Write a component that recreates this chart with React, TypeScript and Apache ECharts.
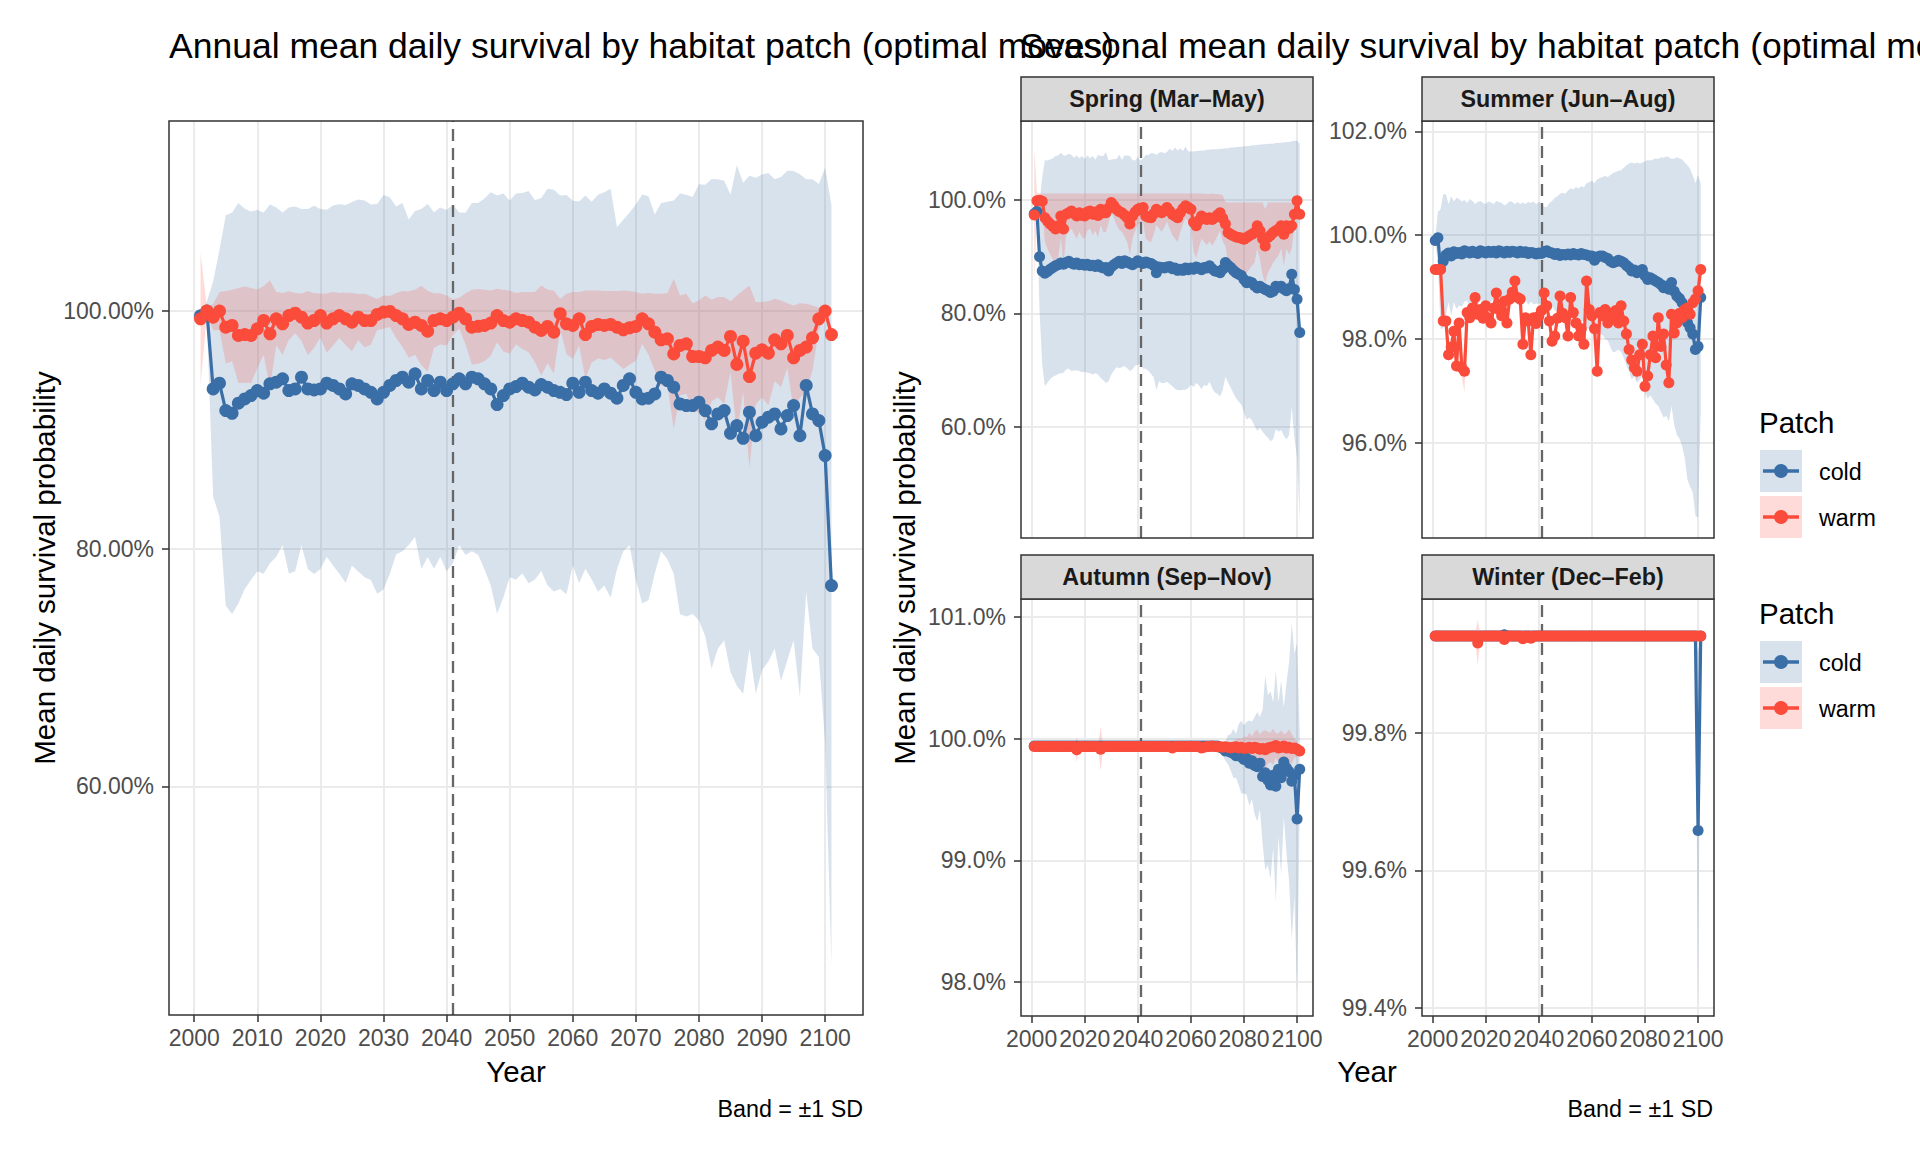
import React, { useEffect, useRef } from "react";
import * as echarts from "echarts";

const FONT = '"Liberation Sans", Arial, Helvetica, sans-serif';
const COLD = "#3A6EA6";
const WARM = "#FB4B3A";
const COLD_BAND = "rgba(58,110,166,0.2)";
const WARM_BAND = "rgba(251,75,58,0.2)";
const COLD_KEY_BG = "#D8E2ED";
const WARM_KEY_BG = "#FEDBD8";

const YEARS: number[] = Array.from({ length: 101 }, (_, i) => 2001 + i);
const POLICY_YEAR = 2041;
const X_MIN = 1996;
const X_MAX = 2106;

const ANNUAL_X_TICKS = [2000, 2010, 2020, 2030, 2040, 2050, 2060, 2070, 2080, 2090, 2100];
const SEASON_X_TICKS = [2000, 2020, 2040, 2060, 2080, 2100];
const ANNUAL_Y_TICKS = [60, 80, 100];
const SPRING_Y_TICKS = [60, 80, 100];
const SUMMER_Y_TICKS = [96, 98, 100, 102];
const AUTUMN_Y_TICKS = [98, 99, 100, 101];
const WINTER_Y_TICKS = [99.4, 99.6, 99.8];

const TITLE_ANNUAL = "Annual mean daily survival by habitat patch (optimal moves)";
const TITLE_SEASONAL = "Seasonal mean daily survival by habitat patch (optimal moves)";
const Y_TITLE = "Mean daily survival probability";
const X_TITLE = "Year";
const CAPTION = "Band = \u00b11 SD";
const LEGEND_TITLE = "Patch";
const PATCH_NAMES = ["cold", "warm"];
const SEASON_NAMES = ["Spring (Mar\u2013May)", "Summer (Jun\u2013Aug)", "Autumn (Sep\u2013Nov)", "Winter (Dec\u2013Feb)"];

// ---------- Annual (percent) ----------
const ANNUAL_COLD_MEAN = [
  99.6, 100.0, 93.45, 93.93, 91.63, 91.40, 92.25, 92.61, 92.89, 93.31,
  93.09, 93.88, 94.02, 94.30, 93.31, 93.45, 94.44, 93.45, 93.37, 93.45,
  93.93, 93.74, 93.45, 93.03, 93.88, 93.74, 93.45, 93.17, 92.61, 93.17,
  93.74, 94.16, 94.44, 94.02, 94.72, 93.45, 94.16, 93.31, 94.02, 93.31,
  93.88, 94.30, 93.88, 94.44, 94.30, 93.88, 93.45, 92.13, 92.89, 93.45,
  93.65, 93.93, 93.60, 93.37, 93.82, 93.60, 93.31, 93.17, 92.98, 93.93,
  93.17, 94.02, 93.31, 93.09, 93.45, 93.09, 92.67, 93.74, 94.30, 93.17,
  92.61, 92.67, 93.03, 94.44, 94.16, 93.60, 92.19, 92.05, 92.05, 92.33,
  91.63, 90.51, 91.35, 91.63, 89.72, 90.37, 89.30, 91.49, 89.52, 90.65,
  91.07, 91.35, 90.08, 91.21, 92.05, 89.52, 93.74, 91.35, 90.79, 87.84,
  76.9,
];
const ANNUAL_COLD_SD = [
  0.2, 0.8, 9.05, 11.23, 16.43, 16.9, 16.85, 16.0, 15.5, 15.2,
  15.2, 15.1, 14.7, 14.0, 15.4, 15.35, 14.15, 15.15, 15.5, 15.15,
  14.6, 15.15, 15.55, 15.9, 15.3, 15.65, 15.85, 15.8, 16.4, 16.6,
  15.85, 14.65, 14.65, 13.7, 13.7, 15.15, 14.85, 15.0, 14.7, 15.2,
  15.1, 14.0, 14.4, 14.65, 14.8, 15.6, 16.55, 17.6, 17.0, 15.85,
  16.25, 16.0, 16.5, 15.95, 15.7, 16.7, 16.9, 16.55, 16.8, 15.35,
  16.05, 15.7, 15.9, 16.7, 16.55, 17.2, 14.4, 13.95, 14.0, 15.8,
  17.2, 17.0, 15.1, 14.65, 15.05, 15.7, 17.7, 17.75, 17.55, 18.35,
  19.0, 20.6, 19.75, 19.35, 20.1, 21.9, 21.5, 19.9, 21.7, 20.85,
  20.55, 19.75, 21.2, 20.6, 19.75, 22.0, 17.35, 19.75, 19.9, 24.25,
  32.0,
];
const ANNUAL_WARM_MEAN = [
  99.35, 100.0, 99.49, 100.0, 98.65, 98.79, 97.95, 98.03, 97.95, 98.51,
  99.21, 98.09, 99.35, 98.93, 99.63, 99.83, 99.49, 98.99, 99.21, 99.63,
  98.99, 99.35, 99.63, 99.35, 99.07, 99.49, 99.21, 99.21, 99.72, 99.92,
  99.97, 99.63, 99.35, 98.88, 99.07, 98.79, 98.31, 99.21, 99.35, 99.21,
  99.49, 99.83, 99.35, 98.65, 98.72, 98.79, 98.99, 99.63, 99.20, 99.07,
  99.35, 99.21, 99.07, 98.65, 98.37, 98.71, 98.23, 99.78, 98.93, 98.79,
  99.35, 98.03, 98.71, 98.88, 98.79, 98.88, 98.65, 98.43, 98.60, 98.71,
  99.35, 98.93, 98.23, 97.58, 97.67, 96.40, 97.11, 97.25, 96.18, 96.18,
  96.07, 96.69, 96.97, 96.69, 97.87, 95.51, 97.47, 94.49, 96.46, 96.74,
  96.46, 97.58, 97.25, 97.95, 96.07, 96.69, 96.97, 97.75, 99.35, 100.0,
  98.03,
];
const ANNUAL_WARM_SD = [
  5.6, 0.3, 1.1, 1.6, 3.05, 3.0, 4.0, 4.05, 4.0, 3.3,
  2.9, 4.5, 2.25, 2.6, 2.05, 1.7, 2.0, 2.7, 2.3, 1.85,
  2.5, 2.25, 1.9, 2.2, 2.45, 1.95, 2.25, 2.05, 1.3, 1.4,
  1.3, 1.9, 2.35, 2.8, 2.75, 3.35, 3.4, 2.3, 2.15, 2.1,
  1.5, 1.3, 2.15, 3.15, 3.15, 3.0, 2.75, 2.25, 2.6, 2.65,
  2.17, 2.39, 2.53, 2.95, 3.79, 3.09, 3.51, 1.26, 2.53, 2.81,
  2.25, 3.71, 3.03, 2.86, 2.9, 2.81, 3.04, 3.31, 3.09, 2.89,
  2.11, 2.59, 3.23, 3.88, 3.85, 6.32, 4.21, 4.21, 4.49, 4.72,
  5.25, 4.27, 4.21, 4.49, 2.97, 5.81, 4.27, 7.67, 4.3, 4.02,
  4.38, 3.46, 3.65, 2.72, 4.41, 3.98, 3.65, 2.73, 0.93, 0.3,
  0.5,
];

// ---------- Spring ----------
const SPRING_COLD_MEAN = [
  97.6, 98.0, 90.0, 87.5, 87.1, 87.4, 87.8, 88.1, 88.4, 88.6,
  88.9, 88.7, 89.0, 89.2, 88.9, 88.7, 88.9, 88.6, 88.7, 88.5,
  88.7, 88.4, 88.5, 88.3, 88.6, 88.2, 88.0, 88.1, 87.5, 88.2,
  88.6, 88.9, 89.2, 88.8, 89.3, 89.1, 88.8, 88.6, 88.9, 89.3,
  89.0, 88.8, 89.1, 88.9, 88.8, 88.5, 87.2, 88.2, 88.1, 88.0,
  88.2, 88.3, 87.9, 88.0, 87.6, 87.8, 87.6, 88.0, 87.7, 88.0,
  87.8, 88.2, 88.0, 87.7, 88.1, 88.0, 88.4, 87.9, 87.5, 87.4,
  87.2, 87.8, 89.0, 88.5, 88.1, 87.6, 87.2, 86.9, 86.7, 86.0,
  85.4, 85.6, 85.4, 84.9, 84.5, 84.8, 84.5, 84.2, 84.0, 83.7,
  83.9, 84.8, 84.6, 84.8, 84.3, 84.0, 84.4, 86.9, 84.2, 82.5,
  76.6,
];
const SPRING_COLD_SD = [
  0.5, 1.0, 9.7, 16.6, 20.0, 19.6, 19.4, 19.3, 19.4, 19.3,
  19.5, 19.2, 18.9, 19.0, 19.1, 18.8, 19.0, 18.8, 19.1, 18.8,
  19.2, 19.0, 19.3, 18.9, 19.4, 19.6, 19.8, 20.4, 19.5, 19.0,
  18.7, 18.4, 18.9, 18.3, 18.6, 18.8, 19.0, 18.5, 18.1, 18.4,
  18.0, 18.6, 18.9, 19.1, 19.5, 19.8, 20.8, 20.2, 20.4, 20.3,
  20.3, 20.8, 20.8, 21.3, 21.2, 21.4, 21.1, 21.5, 20.9, 20.6,
  20.8, 20.5, 20.7, 21.1, 20.7, 20.9, 20.5, 21.1, 21.5, 21.6,
  21.9, 21.3, 20.2, 20.7, 21.2, 21.7, 22.2, 22.5, 22.8, 23.5,
  24.2, 24.0, 24.3, 24.8, 25.3, 25.0, 25.4, 25.7, 26.0, 26.3,
  26.1, 25.3, 25.5, 25.4, 25.9, 26.3, 25.9, 23.5, 26.3, 28.0,
  33.4,
];
const SPRING_WARM_MEAN = [
  97.4, 99.9, 100.0, 99.8, 96.9, 96.3, 95.8, 95.4, 94.9, 95.5,
  97.2, 94.9, 97.5, 97.8, 98.1, 97.6, 97.2, 97.8, 97.3, 97.2,
  97.9, 98.1, 97.5, 97.9, 97.3, 98.4, 97.8, 97.8, 98.6, 99.6,
  99.0, 98.4, 98.0, 97.8, 97.4, 96.9, 95.8, 97.2, 97.9, 98.4,
  98.6, 98.7, 97.2, 97.0, 96.9, 97.6, 98.4, 98.1, 97.8, 98.2,
  98.7, 98.1, 97.5, 97.2, 96.9, 97.8, 98.5, 99.0, 98.7, 98.4,
  96.1, 95.5, 96.4, 97.2, 96.9, 96.6, 96.9, 96.6, 96.9, 97.4,
  97.8, 96.8, 95.8, 94.3, 94.0, 93.7, 93.5, 93.4, 93.3, 93.1,
  93.4, 93.7, 94.0, 94.3, 95.5, 94.6, 93.2, 91.9, 93.4, 93.8,
  94.3, 94.6, 94.9, 95.5, 94.0, 95.5, 95.0, 95.5, 97.5, 99.9,
  97.5,
];
const SPRING_WARM_SD = [
  11.6, 1.5, 1.2, 1.4, 4.3, 4.9, 5.4, 5.8, 6.3, 5.7,
  4.0, 6.3, 3.7, 3.4, 3.1, 3.6, 4.0, 3.4, 3.9, 4.0,
  3.3, 3.1, 3.7, 3.3, 3.9, 2.8, 3.4, 3.4, 2.6, 1.6,
  2.2, 2.8, 3.2, 3.4, 3.8, 4.3, 5.4, 4.0, 3.3, 2.8,
  2.6, 2.5, 4.0, 4.2, 4.3, 3.6, 2.8, 3.1, 3.4, 3.0,
  2.5, 3.1, 3.7, 4.0, 4.3, 3.4, 2.7, 2.2, 2.5, 2.8,
  5.1, 5.7, 4.8, 4.0, 4.3, 4.5, 4.2, 4.6, 4.2, 3.7,
  3.2, 4.1, 3.9, 5.3, 5.6, 5.9, 6.1, 6.2, 6.3, 6.5,
  6.2, 5.9, 5.6, 5.3, 4.1, 5.0, 6.4, 6.5, 6.2, 5.8,
  5.3, 5.0, 4.7, 4.1, 5.6, 4.1, 4.6, 4.1, 2.1, 0.8,
  2.5,
];

// ---------- Summer ----------
const SUMMER_COLD_MEAN = [
  99.90, 99.95, 99.35, 99.50, 99.62, 99.66, 99.60, 99.68, 99.65, 99.67,
  99.64, 99.70, 99.68, 99.66, 99.69, 99.67, 99.65, 99.70, 99.68, 99.66,
  99.69, 99.67, 99.69, 99.66, 99.70, 99.68, 99.66, 99.69, 99.67, 99.69,
  99.68, 99.66, 99.69, 99.67, 99.68, 99.65, 99.67, 99.66, 99.64, 99.66,
  99.65, 99.68, 99.70, 99.67, 99.66, 99.63, 99.65, 99.61, 99.63, 99.62,
  99.64, 99.62, 99.65, 99.63, 99.62, 99.65, 99.63, 99.62, 99.60, 99.60,
  99.52, 99.58, 99.60, 99.60, 99.57, 99.55, 99.50, 99.47, 99.49, 99.52,
  99.50, 99.47, 99.42, 99.38, 99.31, 99.33, 99.28, 99.30, 99.34, 99.22,
  99.15, 99.18, 99.15, 99.12, 99.09, 99.05, 98.99, 99.02, 98.96, 99.09,
  98.92, 98.83, 98.78, 98.70, 98.55, 98.32, 98.22, 98.10, 97.80, 97.86,
  98.80,
];
const SUMMER_COLD_SD = [
  0.05, 0.5, 1.15, 1.29, 1.17, 0.94, 1.15, 0.97, 1.07, 1.03,
  1.01, 0.98, 0.94, 1.04, 0.97, 0.93, 0.99, 0.96, 0.94, 0.94,
  0.96, 0.96, 0.91, 1.0, 0.94, 0.94, 0.92, 0.91, 0.99, 0.95,
  0.92, 0.98, 0.91, 0.96, 0.92, 0.99, 0.95, 0.99, 0.96, 0.98,
  0.97, 0.87, 0.84, 0.95, 1.0, 1.09, 1.1, 1.19, 1.19, 1.18,
  1.22, 1.28, 1.23, 1.3, 1.28, 1.3, 1.29, 1.38, 1.42, 1.45,
  1.48, 1.5, 1.5, 1.52, 1.57, 1.57, 1.66, 1.73, 1.73, 1.72,
  1.75, 1.83, 1.93, 2.0, 2.09, 2.05, 2.12, 2.08, 2.06, 2.2,
  2.3, 2.26, 2.31, 2.36, 2.38, 2.45, 2.5, 2.5, 2.54, 2.38,
  2.56, 2.67, 2.7, 2.76, 2.85, 3.03, 3.06, 3.05, 3.2, 3.3,
  2.2,
];
const SUMMER_WARM_MEAN = [
  99.34, 99.34, 99.34, 98.35, 98.35, 97.70, 97.85, 98.15, 97.48, 98.31,
  97.45, 97.38, 98.51, 98.41, 98.60, 98.80, 98.48, 98.57, 98.40, 98.64,
  98.41, 98.31, 98.60, 98.89, 98.57, 98.45, 98.73, 98.31, 98.77, 98.90,
  99.12, 98.80, 98.77, 97.90, 98.41, 98.35, 97.70, 98.41, 98.30, 98.44,
  98.55, 98.89, 98.64, 98.35, 97.96, 98.06, 98.40, 98.83, 98.50, 98.41,
  98.06, 98.80, 98.51, 98.31, 98.06, 98.20, 97.90, 99.12, 98.57, 98.45,
  98.20, 97.38, 98.51, 98.45, 98.57, 98.31, 98.50, 98.44, 98.55, 98.31,
  98.64, 98.35, 98.10, 97.80, 97.60, 97.45, 97.38, 97.70, 97.90, 97.09,
  97.29, 97.70, 98.06, 97.64, 98.41, 97.86, 98.10, 97.50, 97.16, 98.48,
  98.12, 98.31, 98.50, 98.41, 98.57, 98.60, 98.48, 98.70, 98.77, 98.93,
  99.34,
];
const SUMMER_WARM_SD = [
  0.03, 0.03, 0.03, 0.10, 0.05, 0.15, 0.04, 0.05, 0.12, 0.04,
  0.20, 0.40, 0.04, 0.03, 0.03, 0.04, 0.03, 0.03, 0.04, 0.03,
  0.03, 0.04, 0.03, 0.03, 0.04, 0.03, 0.03, 0.04, 0.03, 0.03,
  0.03, 0.04, 0.03, 0.10, 0.03, 0.04, 0.10, 0.03, 0.04, 0.03,
  0.03, 0.03, 0.04, 0.03, 0.12, 0.05, 0.03, 0.03, 0.04, 0.03,
  0.04, 0.03, 0.03, 0.04, 0.03, 0.03, 0.05, 0.03, 0.03, 0.04,
  0.05, 0.15, 0.04, 0.03, 0.03, 0.04, 0.03, 0.03, 0.04, 0.03,
  0.03, 0.04, 0.05, 0.06, 0.08, 0.10, 0.20, 0.08, 0.06, 0.25,
  0.12, 0.06, 0.05, 0.06, 0.04, 0.05, 0.04, 0.08, 0.15, 0.04,
  0.04, 0.03, 0.03, 0.04, 0.03, 0.03, 0.04, 0.03, 0.03, 0.03,
  0.03,
];

// ---------- Autumn ----------
const AUTUMN_COLD_MEAN = [
  99.94, 99.94, 99.94, 99.94, 99.94, 99.94, 99.94, 99.94, 99.94, 99.94,
  99.94, 99.94, 99.94, 99.94, 99.94, 99.94, 99.94, 99.94, 99.94, 99.94,
  99.94, 99.94, 99.94, 99.94, 99.94, 99.94, 99.94, 99.94, 99.94, 99.94,
  99.94, 99.94, 99.94, 99.94, 99.94, 99.94, 99.94, 99.94, 99.94, 99.94,
  99.94, 99.94, 99.94, 99.94, 99.94, 99.94, 99.94, 99.94, 99.94, 99.94,
  99.94, 99.94, 99.94, 99.94, 99.94, 99.94, 99.94, 99.94, 99.94, 99.94,
  99.94, 99.94, 99.94, 99.94, 99.94, 99.94, 99.94, 99.94, 99.94, 99.94,
  99.93, 99.92, 99.90, 99.91, 99.89, 99.88, 99.86, 99.87, 99.85, 99.83,
  99.84, 99.80, 99.82, 99.78, 99.77, 99.80, 99.69, 99.72, 99.66, 99.62,
  99.70, 99.61, 99.75, 99.68, 99.81, 99.76, 99.73, 99.65, 99.70, 99.34,
  99.75,
];
const AUTUMN_COLD_SD = [
  0.01, 0.01, 0.01, 0.01, 0.01, 0.01, 0.01, 0.01, 0.01, 0.01,
  0.01, 0.01, 0.01, 0.01, 0.01, 0.01, 0.01, 0.01, 0.01, 0.01,
  0.01, 0.01, 0.01, 0.01, 0.01, 0.01, 0.01, 0.01, 0.01, 0.01,
  0.01, 0.01, 0.01, 0.01, 0.01, 0.01, 0.01, 0.01, 0.01, 0.01,
  0.01, 0.01, 0.01, 0.01, 0.01, 0.01, 0.01, 0.01, 0.01, 0.01,
  0.01, 0.01, 0.01, 0.01, 0.01, 0.01, 0.01, 0.01, 0.01, 0.01,
  0.01, 0.01, 0.01, 0.01, 0.01, 0.01, 0.01, 0.01, 0.01, 0.01,
  0.05, 0.06, 0.08, 0.12, 0.15, 0.20, 0.18, 0.25, 0.30, 0.28,
  0.30, 0.35, 0.32, 0.40, 0.45, 0.38, 0.55, 0.80, 0.70, 0.77,
  0.60, 0.95, 0.55, 0.80, 0.45, 0.70, 0.90, 1.30, 1.00, 1.45,
  0.30,
];
const AUTUMN_WARM_MEAN = [
  99.937, 99.937, 99.937, 99.937, 99.937, 99.937, 99.937, 99.937, 99.937, 99.937,
  99.937, 99.937, 99.937, 99.937, 99.937, 99.937, 99.91, 99.937, 99.937, 99.937,
  99.937, 99.937, 99.937, 99.937, 99.937, 99.915, 99.937, 99.937, 99.937, 99.937,
  99.937, 99.937, 99.937, 99.937, 99.937, 99.937, 99.937, 99.937, 99.937, 99.937,
  99.937, 99.937, 99.937, 99.937, 99.937, 99.937, 99.937, 99.937, 99.937, 99.937,
  99.937, 99.937, 99.925, 99.937, 99.937, 99.937, 99.937, 99.937, 99.937, 99.937,
  99.937, 99.937, 99.937, 99.925, 99.93, 99.937, 99.937, 99.94, 99.937, 99.935,
  99.935, 99.93, 99.935, 99.93, 99.925, 99.93, 99.935, 99.925, 99.93, 99.92,
  99.925, 99.93, 99.92, 99.93, 99.925, 99.915, 99.92, 99.91, 99.925, 99.93,
  99.935, 99.945, 99.925, 99.93, 99.94, 99.925, 99.93, 99.92, 99.925, 99.915,
  99.90,
];
const AUTUMN_WARM_SD = [
  0.005, 0.005, 0.005, 0.005, 0.005, 0.005, 0.005, 0.005, 0.005, 0.005,
  0.005, 0.005, 0.005, 0.005, 0.005, 0.005, 0.10, 0.005, 0.005, 0.005,
  0.005, 0.005, 0.005, 0.005, 0.005, 0.18, 0.005, 0.005, 0.005, 0.005,
  0.005, 0.005, 0.005, 0.005, 0.005, 0.005, 0.005, 0.005, 0.005, 0.005,
  0.005, 0.005, 0.005, 0.005, 0.005, 0.005, 0.005, 0.005, 0.005, 0.005,
  0.005, 0.005, 0.04, 0.005, 0.005, 0.005, 0.005, 0.005, 0.005, 0.005,
  0.005, 0.005, 0.005, 0.03, 0.01, 0.005, 0.005, 0.01, 0.01, 0.01,
  0.02, 0.02, 0.03, 0.04, 0.05, 0.05, 0.06, 0.08, 0.07, 0.10,
  0.09, 0.12, 0.10, 0.13, 0.15, 0.12, 0.14, 0.16, 0.13, 0.12,
  0.15, 0.10, 0.12, 0.14, 0.10, 0.12, 0.15, 0.12, 0.08, 0.06,
  0.02,
];

// ---------- Winter ----------
const WINTER_COLD_MEAN = [
  99.941, 99.941, 99.941, 99.941, 99.941, 99.941, 99.941, 99.941, 99.941, 99.941,
  99.941, 99.941, 99.941, 99.941, 99.941, 99.941, 99.941, 99.941, 99.941, 99.941,
  99.941, 99.941, 99.941, 99.941, 99.941, 99.941, 99.943, 99.941, 99.941, 99.941,
  99.941, 99.941, 99.941, 99.941, 99.941, 99.941, 99.941, 99.941, 99.941, 99.941,
  99.941, 99.941, 99.941, 99.941, 99.941, 99.941, 99.941, 99.941, 99.941, 99.941,
  99.941, 99.941, 99.941, 99.941, 99.941, 99.941, 99.941, 99.941, 99.941, 99.941,
  99.941, 99.941, 99.941, 99.941, 99.941, 99.941, 99.941, 99.941, 99.941, 99.941,
  99.941, 99.941, 99.941, 99.941, 99.941, 99.941, 99.941, 99.941, 99.941, 99.941,
  99.941, 99.941, 99.941, 99.941, 99.941, 99.941, 99.941, 99.941, 99.941, 99.941,
  99.941, 99.941, 99.941, 99.941, 99.941, 99.941, 99.941, 99.941, 99.941, 99.658,
  99.941,
];
const WINTER_COLD_SD = [
  0.001, 0.001, 0.001, 0.001, 0.001, 0.001, 0.001, 0.001, 0.001, 0.001,
  0.001, 0.001, 0.001, 0.001, 0.001, 0.001, 0.001, 0.001, 0.001, 0.001,
  0.001, 0.001, 0.001, 0.001, 0.001, 0.001, 0.001, 0.001, 0.001, 0.001,
  0.001, 0.001, 0.001, 0.001, 0.001, 0.001, 0.001, 0.001, 0.001, 0.001,
  0.001, 0.001, 0.001, 0.001, 0.001, 0.001, 0.001, 0.001, 0.001, 0.001,
  0.001, 0.001, 0.001, 0.001, 0.001, 0.001, 0.001, 0.001, 0.001, 0.001,
  0.001, 0.001, 0.001, 0.001, 0.001, 0.001, 0.001, 0.001, 0.001, 0.001,
  0.001, 0.001, 0.001, 0.001, 0.001, 0.001, 0.001, 0.001, 0.001, 0.001,
  0.001, 0.001, 0.001, 0.001, 0.001, 0.001, 0.001, 0.001, 0.001, 0.001,
  0.001, 0.001, 0.001, 0.001, 0.001, 0.001, 0.001, 0.001, 0.001, 0.26,
  0.001,
];
const WINTER_WARM_MEAN = [
  99.941, 99.941, 99.941, 99.941, 99.941, 99.941, 99.941, 99.941, 99.941, 99.941,
  99.941, 99.941, 99.941, 99.941, 99.941, 99.941, 99.931, 99.941, 99.941, 99.941,
  99.941, 99.941, 99.941, 99.941, 99.941, 99.941, 99.936, 99.941, 99.941, 99.941,
  99.941, 99.941, 99.941, 99.937, 99.941, 99.941, 99.938, 99.941, 99.941, 99.941,
  99.941, 99.941, 99.941, 99.941, 99.941, 99.941, 99.941, 99.941, 99.941, 99.941,
  99.941, 99.941, 99.941, 99.941, 99.941, 99.941, 99.941, 99.941, 99.941, 99.941,
  99.941, 99.941, 99.941, 99.941, 99.941, 99.941, 99.941, 99.941, 99.941, 99.941,
  99.941, 99.941, 99.941, 99.941, 99.941, 99.941, 99.941, 99.941, 99.941, 99.941,
  99.941, 99.941, 99.941, 99.941, 99.941, 99.941, 99.941, 99.941, 99.941, 99.941,
  99.941, 99.941, 99.941, 99.941, 99.941, 99.941, 99.941, 99.941, 99.941, 99.941,
  99.941,
];
const WINTER_WARM_SD = [
  0.001, 0.001, 0.001, 0.001, 0.001, 0.001, 0.001, 0.001, 0.001, 0.001,
  0.001, 0.001, 0.001, 0.001, 0.001, 0.001, 0.034, 0.001, 0.001, 0.001,
  0.001, 0.001, 0.001, 0.001, 0.001, 0.001, 0.008, 0.001, 0.001, 0.001,
  0.001, 0.001, 0.001, 0.004, 0.001, 0.001, 0.001, 0.001, 0.001, 0.001,
  0.001, 0.001, 0.001, 0.001, 0.001, 0.001, 0.001, 0.001, 0.001, 0.001,
  0.001, 0.001, 0.001, 0.001, 0.001, 0.001, 0.001, 0.001, 0.001, 0.001,
  0.001, 0.001, 0.001, 0.001, 0.001, 0.001, 0.001, 0.001, 0.001, 0.001,
  0.001, 0.001, 0.001, 0.001, 0.001, 0.001, 0.001, 0.001, 0.001, 0.001,
  0.001, 0.001, 0.001, 0.001, 0.001, 0.001, 0.001, 0.001, 0.001, 0.001,
  0.001, 0.001, 0.001, 0.001, 0.001, 0.001, 0.001, 0.001, 0.001, 0.001,
  0.001,
];

type Panel = {
  id: string;
  left: number; top: number; width: number; height: number;
  yMin: number; yMax: number; yTicks: number[]; yDigits: number;
  xTicks: number[]; showX: boolean;
  symbolSize: number;
  coldMean: number[]; coldSd: number[]; warmMean: number[]; warmSd: number[];
  strip?: string;
};

const PANELS: Panel[] = [
  { id: "annual", left: 169, top: 121, width: 694, height: 894, yMin: 40.76, yMax: 116.0, yTicks: ANNUAL_Y_TICKS, yDigits: 2,
    xTicks: ANNUAL_X_TICKS, showX: true, symbolSize: 13,
    coldMean: ANNUAL_COLD_MEAN, coldSd: ANNUAL_COLD_SD, warmMean: ANNUAL_WARM_MEAN, warmSd: ANNUAL_WARM_SD },
  { id: "spring", left: 1021, top: 121, width: 292, height: 417, yMin: 40.3, yMax: 114.0, yTicks: SPRING_Y_TICKS, yDigits: 1,
    xTicks: SEASON_X_TICKS, showX: false, symbolSize: 11, strip: SEASON_NAMES[0],
    coldMean: SPRING_COLD_MEAN, coldSd: SPRING_COLD_SD, warmMean: SPRING_WARM_MEAN, warmSd: SPRING_WARM_SD },
  { id: "summer", left: 1422, top: 121, width: 292, height: 417, yMin: 94.17, yMax: 102.2, yTicks: SUMMER_Y_TICKS, yDigits: 1,
    xTicks: SEASON_X_TICKS, showX: false, symbolSize: 11, strip: SEASON_NAMES[1],
    coldMean: SUMMER_COLD_MEAN, coldSd: SUMMER_COLD_SD, warmMean: SUMMER_WARM_MEAN, warmSd: SUMMER_WARM_SD },
  { id: "autumn", left: 1021, top: 599, width: 292, height: 417, yMin: 97.72, yMax: 101.15, yTicks: AUTUMN_Y_TICKS, yDigits: 1,
    xTicks: SEASON_X_TICKS, showX: true, symbolSize: 11, strip: SEASON_NAMES[2],
    coldMean: AUTUMN_COLD_MEAN, coldSd: AUTUMN_COLD_SD, warmMean: AUTUMN_WARM_MEAN, warmSd: AUTUMN_WARM_SD },
  { id: "winter", left: 1422, top: 599, width: 292, height: 417, yMin: 99.388, yMax: 99.995, yTicks: WINTER_Y_TICKS, yDigits: 1,
    xTicks: SEASON_X_TICKS, showX: true, symbolSize: 11, strip: SEASON_NAMES[3],
    coldMean: WINTER_COLD_MEAN, coldSd: WINTER_COLD_SD, warmMean: WINTER_WARM_MEAN, warmSd: WINTER_WARM_SD },
];

const TICK_FONT = 23;
const SMALL_FONT = 23.3;
const MID_FONT = 29.5;
const TITLE_FONT = 35.5;

function txt(x: number, y: number, text: string, size: number, align: string, opts: any = {}) {
  const font = `${opts.weight || "normal"} ${size}px ${FONT}`;
  return {
    type: "text", x, y, rotation: opts.rotation || 0, z: 20, silent: true,
    style: {
      text, font, fill: opts.color || "#000000",
      textAlign: align, textVerticalAlign: "middle", align, verticalAlign: "middle",
    },
  };
}

function buildOption() {
  const grid: any[] = [];
  const xAxis: any[] = [];
  const yAxis: any[] = [];
  const series: any[] = [];
  const graphic: any[] = [];

  PANELS.forEach((p, k) => {
    grid.push({ left: p.left, top: p.top, width: p.width, height: p.height, show: false, containLabel: false });
    xAxis.push({
      gridIndex: k, type: "value", min: X_MIN, max: X_MAX,
      axisLine: { show: false },
      axisTick: { show: p.showX, length: 7, lineStyle: { color: "#333333", width: 1.5 }, customValues: p.xTicks },
      axisLabel: { show: p.showX, customValues: p.xTicks, margin: 11, color: "#4D4D4D", fontSize: TICK_FONT, fontFamily: FONT,
        formatter: (v: number) => String(Math.round(v)) },
      splitLine: { show: true, lineStyle: { color: "#EBEBEB", width: 2 } },
    });
    yAxis.push({
      gridIndex: k, type: "value", min: p.yMin, max: p.yMax,
      axisLine: { show: false },
      axisTick: { show: true, length: 7, lineStyle: { color: "#333333", width: 1.5 }, customValues: p.yTicks },
      axisLabel: { customValues: p.yTicks, margin: 15, color: "#4D4D4D", fontSize: TICK_FONT, fontFamily: FONT,
        formatter: (v: number) => v.toFixed(p.yDigits) + "%" },
      splitLine: { show: true, lineStyle: { color: "#EBEBEB", width: 2 } },
    });

    const patches = [
      { name: PATCH_NAMES[0], color: COLD, band: COLD_BAND, mean: p.coldMean, sd: p.coldSd },
      { name: PATCH_NAMES[1], color: WARM, band: WARM_BAND, mean: p.warmMean, sd: p.warmSd },
    ];
    // ±1 SD ribbons (one polygon per patch, built through the axes' scales)
    patches.forEach((pt) => {
      const rows = YEARS.map((yr, i) => [yr, pt.mean[i] - pt.sd[i], pt.mean[i] + pt.sd[i]]);
      series.push({
        type: "custom", xAxisIndex: k, yAxisIndex: k, silent: true, z: 1, clip: true,
        encode: { x: 0, y: [1, 2] },
        data: rows,
        renderItem: (params: any, api: any) => {
          if (params.dataIndex !== 0) return null;
          const upper = rows.map((r) => api.coord([r[0], r[2]]));
          const lower = rows.map((r) => api.coord([r[0], r[1]])).reverse();
          return {
            type: "polygon",
            shape: { points: upper.concat(lower) },
            style: { fill: pt.band, stroke: "none" },
          };
        },
      });
    });
    patches.forEach((pt, j) => {
      const s: any = {
        type: "line", xAxisIndex: k, yAxisIndex: k, silent: true, z: 3,
        symbol: "none", showSymbol: false, lineStyle: { color: pt.color, width: 3.2 },
        data: YEARS.map((yr, i) => [yr, pt.mean[i]]),
      };
      if (j === 0) {
        s.markLine = {
          silent: true, symbol: ["none", "none"], z: 2, animation: false,
          label: { show: false },
          lineStyle: { color: "#666666", type: [12, 7], width: 2.3 },
          data: [{ xAxis: POLICY_YEAR }],
        };
      }
      series.push(s);
    });
    patches.forEach((pt) => {
      series.push({
        type: "scatter", xAxisIndex: k, yAxisIndex: k, silent: true, z: 4,
        symbol: "circle", symbolSize: p.symbolSize, itemStyle: { color: pt.color, opacity: 1 },
        data: YEARS.map((yr, i) => [yr, pt.mean[i]]),
      });
    });

    // panel border
    graphic.push({
      type: "rect", z: 15, silent: true,
      shape: { x: p.left, y: p.top, width: p.width, height: p.height },
      style: { fill: "rgba(0,0,0,0)", stroke: "#333333", lineWidth: 1.5 },
    });
    if (p.strip) {
      graphic.push({
        type: "rect", z: 15, silent: true,
        shape: { x: p.left, y: p.top - 44, width: p.width, height: 44 },
        style: { fill: "#D9D9D9", stroke: "#333333", lineWidth: 1.5 },
      });
      graphic.push(txt(p.left + p.width / 2, p.top - 22, p.strip, SMALL_FONT, "center", { weight: "bold", color: "#1A1A1A" }));
    }
  });

  // Titles
  graphic.push(txt(169, 46, TITLE_ANNUAL, TITLE_FONT, "left"));
  graphic.push(txt(1020, 46, TITLE_SEASONAL, TITLE_FONT, "left"));
  // Axis titles
  graphic.push(txt(44, 568, Y_TITLE, MID_FONT, "center", { rotation: Math.PI / 2 }));
  graphic.push(txt(904, 568, Y_TITLE, MID_FONT, "center", { rotation: Math.PI / 2 }));
  graphic.push(txt(516, 1071, X_TITLE, MID_FONT, "center"));
  graphic.push(txt(1367, 1071, X_TITLE, MID_FONT, "center"));
  // Captions
  graphic.push(txt(863, 1109, CAPTION, SMALL_FONT, "right"));
  graphic.push(txt(1713, 1109, CAPTION, SMALL_FONT, "right"));

  // Legends
  const legendTops = [422, 613];
  legendTops.forEach((ty) => {
    graphic.push(txt(1759, ty, LEGEND_TITLE, MID_FONT, "left"));
    const keys = [
      { y: ty + 28, bg: COLD_KEY_BG, color: COLD, label: PATCH_NAMES[0] },
      { y: ty + 74, bg: WARM_KEY_BG, color: WARM, label: PATCH_NAMES[1] },
    ];
    keys.forEach((kk) => {
      graphic.push({ type: "rect", z: 15, silent: true, shape: { x: 1760, y: kk.y, width: 42, height: 42 }, style: { fill: kk.bg } });
      graphic.push({ type: "line", z: 16, silent: true, shape: { x1: 1763, y1: kk.y + 21, x2: 1799, y2: kk.y + 21 }, style: { stroke: kk.color, lineWidth: 3.5 } });
      graphic.push({ type: "circle", z: 17, silent: true, shape: { cx: 1781, cy: kk.y + 21, r: 7 }, style: { fill: kk.color } });
      graphic.push(txt(1819, kk.y + 22, kk.label, SMALL_FONT, "left"));
    });
  });

  return {
    animation: false,
    backgroundColor: "#ffffff",
    grid, xAxis, yAxis, series, graphic,
  };
}

export default function App() {
  const ref = useRef<HTMLDivElement>(null);
  useEffect(() => {
    if (!ref.current) return;
    const chart = echarts.init(ref.current, undefined, { renderer: "svg" });
    chart.setOption(buildOption() as any);
    return () => chart.dispose();
  }, []);
  return (
    <div
      ref={ref}
      style={{ position: "fixed", left: 0, top: 0, width: "1920px", height: "1152px", background: "#ffffff" }}
    />
  );
}
